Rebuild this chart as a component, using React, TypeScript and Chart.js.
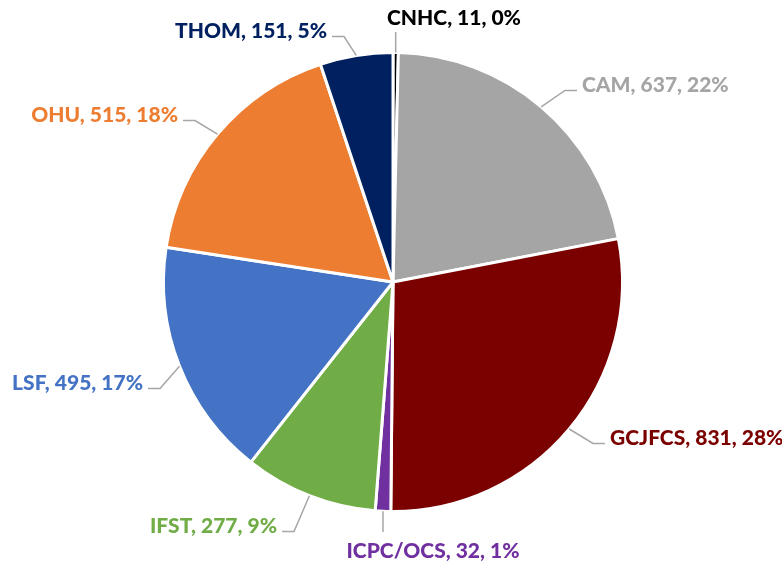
import React, { useEffect, useRef } from "react";
import { Chart, registerables } from "chart.js";

Chart.register(...registerables);

const categories = ["CNHC", "CAM", "GCJFCS", "ICPC/OCS", "IFST", "LSF", "OHU", "THOM"];
const values = [11, 637, 831, 32, 277, 495, 515, 151];

const sliceColors = ["#000000", "#A5A5A5", "#7B0000", "#7030A0", "#70AD47", "#4472C4", "#ED7D31", "#002060"];
const labelColors = ["#000000", "#A5A5A5", "#7B0000", "#7030A0", "#70AD47", "#4472C4", "#ED7D31", "#002060"];

// label placement relative to pie centre (text anchor x, baseline y)
const labelDx = [-6, 189, 217, 40, -116, -250, -215, -66];
const labelDy = [-257, -190, 163, 276, 251, 108, -160, -244];
const labelAlign: CanvasTextAlign[] = ["left", "left", "left", "center", "right", "right", "right", "right"];
const labelMode = ["vertUp", "side", "side", "vertDown", "side", "side", "side", "side"];

function percents(vals: number[]): number[] {
  const total = vals.reduce((a, b) => a + b, 0);
  const raw = vals.map((v) => (v / total) * 100);
  const fl = raw.map((r) => Math.floor(r));
  let rem = 100 - fl.reduce((a, b) => a + b, 0);
  const order = raw.map((r, i) => ({ i, f: r - Math.floor(r) })).sort((a, b) => b.f - a.f);
  for (let k = 0; k < rem; k++) fl[order[k].i] += 1;
  return fl;
}

const labelPlugin = {
  id: "pieLabels",
  afterDraw(chart: any) {
    const ctx = chart.ctx;
    const meta = chart.getDatasetMeta(0);
    const pct = percents(values);
    meta.data.forEach((arc: any, i: number) => {
      const { x, y, startAngle, endAngle, outerRadius } = arc.getProps(
        ["x", "y", "startAngle", "endAngle", "outerRadius"],
        true
      );
      const mid = (startAngle + endAngle) / 2;
      const px = x + Math.cos(mid) * outerRadius;
      const py = y + Math.sin(mid) * outerRadius;
      const tx = x + labelDx[i];
      const ty = y + labelDy[i];
      ctx.save();
      ctx.strokeStyle = "#A6A6A6";
      ctx.lineWidth = 1.5;
      ctx.beginPath();
      const mode = labelMode[i];
      if (mode === "vertUp") {
        ctx.moveTo(px, ty + 7);
        ctx.lineTo(px, py);
      } else if (mode === "vertDown") {
        ctx.moveTo(px, ty - 26);
        ctx.lineTo(px, py);
      } else {
        const ly = ty - 1.5;
        if (labelAlign[i] === "left") {
          ctx.moveTo(tx - 5, ly);
          ctx.lineTo(tx - 17, ly);
        } else {
          ctx.moveTo(tx + 5, ly);
          ctx.lineTo(tx + 17, ly);
        }
        ctx.lineTo(px, py);
      }
      ctx.stroke();
      ctx.font = "900 21px Lato";
      ctx.fillStyle = labelColors[i];
      ctx.textAlign = labelAlign[i];
      ctx.textBaseline = "alphabetic";
      ctx.fillText(`${categories[i]}, ${values[i]}, ${pct[i]}%`, tx, ty);
      ctx.restore();
    });
  },
};

export default function App() {
  const ref = useRef<HTMLCanvasElement | null>(null);
  useEffect(() => {
    document.body.style.margin = "0";
    document.body.style.overflow = "hidden";
    if (!ref.current) return;
    const chart = new Chart(ref.current, {
      type: "pie",
      data: {
        labels: categories,
        datasets: [
          {
            data: values,
            backgroundColor: sliceColors,
            borderColor: "#FFFFFF",
            borderWidth: 3,
          },
        ],
      },
      options: {
        responsive: false,
        animation: false,
        layout: { padding: { top: 51, bottom: 49, left: 4, right: 0 } },
        plugins: {
          legend: { display: false },
          tooltip: { enabled: false },
        },
      },
      plugins: [labelPlugin],
    });
    return () => chart.destroy();
  }, []);
  return (
    <div style={{ width: 782, height: 562, background: "#fff" }}>
      <canvas ref={ref} width={782} height={562} style={{ display: "block" }} />
    </div>
  );
}
